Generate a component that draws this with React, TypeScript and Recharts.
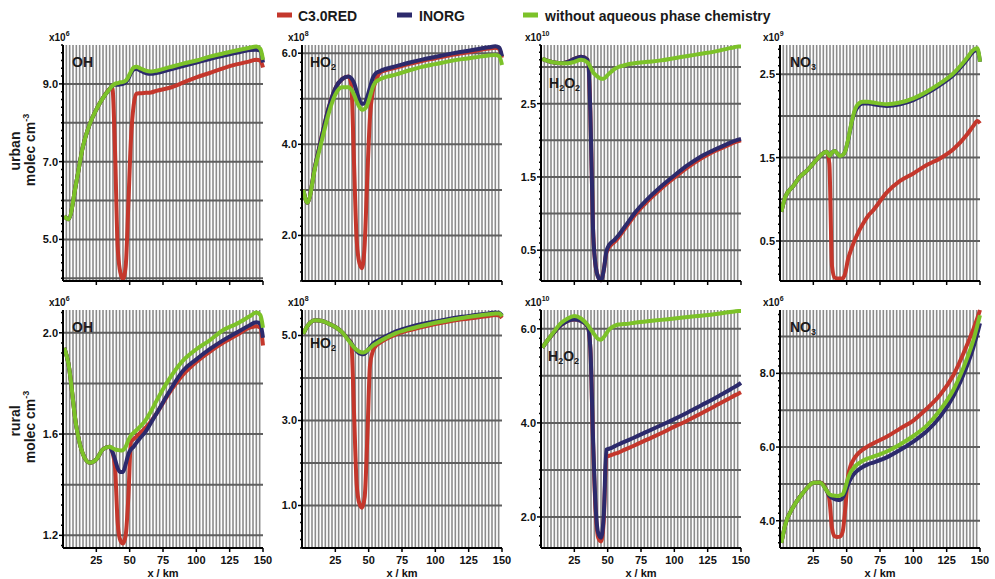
import React from 'react';
import { LineChart, Line, XAxis, YAxis, CartesianGrid } from 'recharts';

// distance along the trajectory (km)
const KM = [1, 4, 10, 15, 20, 25, 30, 35, 37, 39, 41, 43, 45, 47, 49, 51, 53, 55, 58, 62, 66, 70, 80, 90, 100, 110, 120, 130, 140, 145, 148, 150];

// urban, OH (x10^6)
const U_OH_C3 = [5.6, 5.52, 6.47, 7.4, 7.96, 8.34, 8.64, 8.87, 8.9, 7.3, 4.8, 4.15, 3.98, 4.3, 5.9, 7.6, 8.45, 8.75, 8.76, 8.77, 8.78, 8.82, 8.9, 9.03, 9.17, 9.28, 9.4, 9.5, 9.58, 9.62, 9.6, 9.42];
const U_OH_INORG = [5.6, 5.52, 6.47, 7.4, 7.96, 8.34, 8.64, 8.87, 8.95, 8.98, 8.98, 8.99, 9.0, 9.04, 9.14, 9.28, 9.37, 9.39, 9.34, 9.28, 9.26, 9.28, 9.37, 9.46, 9.55, 9.64, 9.72, 9.8, 9.87, 9.88, 9.85, 9.55];
const U_OH_NOAQ = [5.6, 5.52, 6.47, 7.4, 7.96, 8.34, 8.64, 8.87, 8.95, 9.0, 9.02, 9.04, 9.05, 9.08, 9.18, 9.32, 9.42, 9.44, 9.4, 9.34, 9.32, 9.34, 9.43, 9.52, 9.6, 9.7, 9.78, 9.86, 9.93, 9.96, 9.9, 9.62];

// urban, HO2 (x10^8)
const U_HO2_C3 = [3.0, 2.72, 3.55, 4.2, 4.8, 5.23, 5.43, 5.49, 5.3, 3.6, 1.9, 1.4, 1.28, 1.8, 3.3, 4.6, 5.15, 5.36, 5.56, 5.62, 5.65, 5.68, 5.76, 5.83, 5.89, 5.95, 6.0, 6.05, 6.1, 6.12, 6.09, 5.9];
const U_HO2_INORG = [3.0, 2.72, 3.55, 4.2, 4.8, 5.23, 5.43, 5.49, 5.45, 5.35, 5.16, 4.98, 4.89, 4.9, 5.05, 5.25, 5.45, 5.55, 5.6, 5.65, 5.68, 5.71, 5.79, 5.86, 5.92, 5.98, 6.03, 6.08, 6.13, 6.15, 6.12, 5.93];
const U_HO2_NOAQ = [3.0, 2.72, 3.51, 4.1, 4.68, 5.09, 5.25, 5.25, 5.2, 5.09, 4.94, 4.82, 4.76, 4.78, 4.87, 5.05, 5.25, 5.36, 5.42, 5.47, 5.5, 5.53, 5.62, 5.7, 5.76, 5.82, 5.87, 5.91, 5.95, 5.96, 5.93, 5.74];

// urban, H2O2 (x10^10)
const U_H2O2_C3 = [3.11, 3.09, 3.06, 3.05, 3.07, 3.11, 3.14, 3.1, 2.4, 0.8, 0.28, 0.13, 0.09, 0.22, 0.46, 0.54, 0.58, 0.61, 0.67, 0.77, 0.87, 0.97, 1.17, 1.34, 1.49, 1.63, 1.75, 1.85, 1.93, 1.97, 1.99, 2.0];
const U_H2O2_INORG = [3.11, 3.09, 3.06, 3.05, 3.07, 3.11, 3.14, 3.1, 2.4, 0.8, 0.28, 0.13, 0.09, 0.22, 0.48, 0.57, 0.61, 0.64, 0.7, 0.8, 0.9, 1.0, 1.2, 1.37, 1.52, 1.66, 1.78, 1.87, 1.95, 1.99, 2.01, 2.02];
const U_H2O2_NOAQ = [3.11, 3.09, 3.06, 3.05, 3.05, 3.07, 3.1, 3.06, 3.0, 2.93, 2.89, 2.86, 2.84, 2.84, 2.87, 2.91, 2.94, 2.97, 3.0, 3.02, 3.04, 3.05, 3.07, 3.09, 3.12, 3.15, 3.18, 3.21, 3.25, 3.27, 3.28, 3.28];

// urban, NO3 (x10^9)
const U_NO3_C3 = [0.85, 1.03, 1.16, 1.27, 1.34, 1.43, 1.52, 1.57, 1.43, 0.2, 0.06, 0.05, 0.05, 0.05, 0.12, 0.28, 0.38, 0.47, 0.58, 0.7, 0.8, 0.87, 1.08, 1.22, 1.31, 1.41, 1.49, 1.6, 1.77, 1.88, 1.94, 1.91];
const U_NO3_INORG = [0.85, 1.03, 1.16, 1.27, 1.34, 1.43, 1.52, 1.57, 1.52, 1.56, 1.58, 1.55, 1.52, 1.53, 1.58, 1.7, 1.86, 2.0, 2.1, 2.15, 2.15, 2.14, 2.12, 2.14, 2.19, 2.27, 2.37, 2.49, 2.67, 2.77, 2.79, 2.65];
const U_NO3_NOAQ = [0.85, 1.03, 1.16, 1.27, 1.34, 1.43, 1.52, 1.57, 1.52, 1.56, 1.58, 1.55, 1.52, 1.53, 1.58, 1.71, 1.87, 2.01, 2.13, 2.17, 2.17, 2.16, 2.14, 2.16, 2.21, 2.29, 2.39, 2.51, 2.69, 2.79, 2.81, 2.65];

// rural, OH (x10^6)
const R_OH_C3 = [1.94, 1.88, 1.63, 1.52, 1.487, 1.5, 1.54, 1.55, 1.53, 1.47, 1.25, 1.18, 1.168, 1.2, 1.35, 1.57, 1.58, 1.59, 1.605, 1.625, 1.65, 1.68, 1.765, 1.835, 1.885, 1.925, 1.96, 1.99, 2.02, 2.026, 2.02, 1.95];
const R_OH_INORG = [1.94, 1.88, 1.63, 1.52, 1.487, 1.5, 1.54, 1.55, 1.53, 1.5, 1.465, 1.45, 1.45, 1.48, 1.52, 1.54, 1.55, 1.565, 1.585, 1.61, 1.645, 1.68, 1.77, 1.85, 1.895, 1.935, 1.97, 2.0, 2.03, 2.042, 2.035, 1.98];
const R_OH_NOAQ = [1.94, 1.88, 1.63, 1.52, 1.487, 1.5, 1.54, 1.55, 1.545, 1.54, 1.537, 1.535, 1.537, 1.55, 1.575, 1.595, 1.605, 1.615, 1.63, 1.655, 1.69, 1.73, 1.82, 1.89, 1.935, 1.97, 2.01, 2.035, 2.065, 2.08, 2.07, 2.02];

// rural, HO2 (x10^8)
const R_HO2_C3 = [5.04, 5.22, 5.36, 5.34, 5.28, 5.2, 5.08, 4.9, 4.82, 3.2, 1.5, 1.05, 0.95, 1.2, 2.6, 4.3, 4.62, 4.74, 4.82, 4.9, 4.96, 5.02, 5.12, 5.2, 5.27, 5.33, 5.38, 5.42, 5.46, 5.48, 5.47, 5.41];
const R_HO2_INORG = [5.04, 5.22, 5.36, 5.34, 5.28, 5.2, 5.08, 4.9, 4.82, 4.72, 4.64, 4.58, 4.56, 4.57, 4.64, 4.72, 4.8, 4.85, 4.9, 4.97, 5.03, 5.09, 5.19, 5.27, 5.33, 5.39, 5.44, 5.48, 5.52, 5.54, 5.53, 5.47];
const R_HO2_NOAQ = [5.04, 5.22, 5.36, 5.34, 5.28, 5.2, 5.08, 4.88, 4.8, 4.72, 4.66, 4.62, 4.6, 4.61, 4.65, 4.7, 4.76, 4.8, 4.86, 4.93, 4.99, 5.05, 5.15, 5.23, 5.3, 5.36, 5.41, 5.46, 5.5, 5.52, 5.52, 5.45];

// rural, H2O2 (x10^10)
const R_H2O2_C3 = [5.6, 5.72, 5.93, 6.08, 6.17, 6.2, 6.17, 6.05, 5.6, 3.6, 2.1, 1.55, 1.48, 1.9, 3.28, 3.3, 3.32, 3.34, 3.37, 3.42, 3.47, 3.52, 3.65, 3.78, 3.92, 4.05, 4.2, 4.35, 4.5, 4.58, 4.62, 4.65];
const R_H2O2_INORG = [5.6, 5.72, 5.93, 6.08, 6.17, 6.2, 6.17, 6.05, 5.6, 3.7, 2.2, 1.65, 1.56, 2.0, 3.43, 3.45, 3.47, 3.5, 3.54, 3.59, 3.64, 3.69, 3.82, 3.95, 4.08, 4.22, 4.37, 4.52, 4.68, 4.76, 4.81, 4.85];
const R_H2O2_NOAQ = [5.6, 5.72, 5.95, 6.12, 6.22, 6.27, 6.22, 6.08, 6.0, 5.92, 5.84, 5.78, 5.77, 5.82, 5.9, 5.98, 6.03, 6.06, 6.09, 6.1, 6.11, 6.13, 6.16, 6.19, 6.22, 6.25, 6.28, 6.31, 6.35, 6.37, 6.38, 6.38];

// rural, NO3 (x10^6)
const R_NO3_C3 = [3.4, 3.9, 4.38, 4.65, 4.88, 5.03, 5.04, 4.82, 4.6, 3.8, 3.58, 3.56, 3.57, 3.7, 4.35, 5.2, 5.5, 5.65, 5.8, 5.93, 6.02, 6.1, 6.28, 6.5, 6.72, 7.04, 7.41, 7.95, 8.75, 9.2, 9.5, 9.72];
const R_NO3_INORG = [3.4, 3.9, 4.38, 4.65, 4.88, 5.03, 5.04, 4.82, 4.68, 4.62, 4.59, 4.57, 4.56, 4.62, 4.78, 4.98, 5.14, 5.25, 5.36, 5.46, 5.53, 5.58, 5.72, 5.92, 6.15, 6.43, 6.82, 7.38, 8.18, 8.7, 9.08, 9.36];
const R_NO3_NOAQ = [3.4, 3.9, 4.38, 4.65, 4.88, 5.03, 5.04, 4.82, 4.72, 4.69, 4.68, 4.67, 4.69, 4.72, 4.9, 5.15, 5.32, 5.42, 5.53, 5.63, 5.69, 5.74, 5.88, 6.07, 6.3, 6.58, 7.0, 7.55, 8.38, 8.9, 9.3, 9.58];

const X_TICKS = [25, 50, 75, 100, 125, 150];

const RED = '#c4372c';
const BLUE = '#2c2a6c';
const GREEN = '#7cc229';
const FONT = "'Liberation Sans', Arial, sans-serif";

const PLOT_W = 200;
const Y_AXIS_W = 40;
const TOP_MARGIN = 4;
const RIGHT_MARGIN = 14;

const steps = (from: number, to: number, step: number) => {
  const out: number[] = [];
  const n = Math.round((to - from) / step);
  for (let i = 0; i <= n; i++) out.push(+(from + i * step).toFixed(4));
  return out;
};

const V_GRID = steps(2.5, 147.5, 2.5);

interface PanelProps {
  left: number;
  top: number;
  plotH: number;
  showX: boolean;
  domain: [number, number];
  grid: number[];
  labels: number[];
  minorStep: number;
  red: number[];
  blue: number[];
  green: number[];
}

const Panel: React.FC<PanelProps> = (p) => {
  const data = KM.map((x, i) => ({ x, red: p.red[i], blue: p.blue[i], green: p.green[i] }));
  const start = Math.ceil(p.domain[0] / p.minorStep) * p.minorStep;
  const minor = steps(start, p.domain[1], p.minorStep).filter((v) => v <= p.domain[1]);
  const axisH = p.showX ? 30 : 8;

  const yTick = (props: any) => {
    const { x, y, payload } = props;
    const v = payload.value as number;
    const major = p.labels.some((l) => Math.abs(l - v) < 1e-6);
    return (
      <g>
        <line x1={x - (major ? 4 : 2)} x2={x} y1={y} y2={y} stroke="#000" strokeWidth={1.5} />
        {major && (
          <text x={x - 5} y={y} dy="0.36em" textAnchor="end" fontSize={11} fontWeight={700} fontFamily={FONT} fill="#111">
            {v.toFixed(1)}
          </text>
        )}
      </g>
    );
  };

  const xTick = (props: any) => {
    const { x, y, payload } = props;
    return (
      <g>
        <line x1={x} x2={x} y1={y} y2={y + 4} stroke="#000" strokeWidth={1.5} />
        {p.showX && (
          <text x={x} y={y + 16} textAnchor="middle" fontSize={11} fontWeight={700} fontFamily={FONT} fill="#111">
            {payload.value}
          </text>
        )}
      </g>
    );
  };

  return (
    <div style={{ position: 'absolute', left: p.left - Y_AXIS_W, top: p.top - TOP_MARGIN }}>
      <LineChart
        width={Y_AXIS_W + PLOT_W + RIGHT_MARGIN}
        height={p.plotH + TOP_MARGIN + axisH}
        data={data}
        margin={{ top: TOP_MARGIN, right: RIGHT_MARGIN, bottom: 0, left: 0 }}
      >
        <CartesianGrid horizontal={false} verticalValues={V_GRID} stroke="#8c8c8c" strokeWidth={1.6} />
        <CartesianGrid vertical={false} horizontalValues={p.grid} stroke="#5e5e5e" strokeWidth={2} />
        <XAxis
          dataKey="x"
          type="number"
          domain={[0, 150]}
          ticks={X_TICKS}
          interval={0}
          height={axisH}
          tickSize={0}
          tickMargin={0}
          tickLine={false}
          tick={xTick}
          axisLine={{ stroke: '#000', strokeWidth: 2 }}
        />
        <YAxis
          type="number"
          domain={p.domain}
          ticks={minor}
          interval={0}
          width={Y_AXIS_W}
          tickSize={0}
          tickMargin={0}
          tickLine={false}
          tick={yTick}
          axisLine={{ stroke: '#000', strokeWidth: 2 }}
        />
        <Line type="monotone" dataKey="red" stroke={RED} strokeWidth={4} dot={false} isAnimationActive={false} />
        <Line type="monotone" dataKey="blue" stroke={BLUE} strokeWidth={4} dot={false} isAnimationActive={false} />
        <Line type="monotone" dataKey="green" stroke={GREEN} strokeWidth={4} dot={false} isAnimationActive={false} />
      </LineChart>
    </div>
  );
};

const COLS = [63, 302, 541, 780];
const TOP_ROW = 45;
const BOTTOM_ROW = 310;

const Exp = ({ x, y, e }: { x: number; y: number; e: string }) => (
  <text x={x} y={y} fontSize={10} fontWeight={700} fontFamily={FONT} fill="#111">
    x10<tspan fontSize={7} dy={-5}>{e}</tspan>
  </text>
);

const App: React.FC = () => {
  const t = { fontSize: 14, fontWeight: 700, fontFamily: FONT, fill: '#1a1a1a' } as const;
  const ho2 = (
    <>
      <tspan>HO</tspan>
      <tspan fontSize={9} dy={3}>2</tspan>
    </>
  );
  const h2o2 = (
    <>
      <tspan>H</tspan>
      <tspan fontSize={9} dy={3}>2</tspan>
      <tspan dy={-3}>O</tspan>
      <tspan fontSize={9} dy={3}>2</tspan>
    </>
  );
  const no3 = (
    <>
      <tspan>NO</tspan>
      <tspan fontSize={9} dy={3}>3</tspan>
    </>
  );
  return (
    <div style={{ position: 'absolute', left: 0, top: 0, width: 995, height: 579, background: '#fff', overflow: 'hidden' }}>
      <Panel left={COLS[0]} top={TOP_ROW} plotH={236} showX={false} domain={[3.93, 10.0]} grid={[4, 5, 6, 7, 8, 9]} labels={[5, 7, 9]} minorStep={0.2} red={U_OH_C3} blue={U_OH_INORG} green={U_OH_NOAQ} />
      <Panel left={COLS[1]} top={TOP_ROW} plotH={236} showX={false} domain={[1.0, 6.18]} grid={[1, 2, 3, 4, 5, 6]} labels={[2, 4, 6]} minorStep={0.2} red={U_HO2_C3} blue={U_HO2_INORG} green={U_HO2_NOAQ} />
      <Panel left={COLS[2]} top={TOP_ROW} plotH={236} showX={false} domain={[0.08, 3.3]} grid={[0.5, 1, 1.5, 2, 2.5, 3]} labels={[0.5, 1.5, 2.5]} minorStep={0.1} red={U_H2O2_C3} blue={U_H2O2_INORG} green={U_H2O2_NOAQ} />
      <Panel left={COLS[3]} top={TOP_ROW} plotH={236} showX={false} domain={[0.02, 2.85]} grid={[0.5, 1, 1.5, 2, 2.5]} labels={[0.5, 1.5, 2.5]} minorStep={0.1} red={U_NO3_C3} blue={U_NO3_INORG} green={U_NO3_NOAQ} />
      <Panel left={COLS[0]} top={BOTTOM_ROW} plotH={238} showX domain={[1.15, 2.09]} grid={[1.2, 1.4, 1.6, 1.8, 2.0]} labels={[1.2, 1.6, 2.0]} minorStep={0.04} red={R_OH_C3} blue={R_OH_INORG} green={R_OH_NOAQ} />
      <Panel left={COLS[1]} top={BOTTOM_ROW} plotH={238} showX domain={[0, 5.6]} grid={[1, 2, 3, 4, 5]} labels={[1, 3, 5]} minorStep={0.2} red={R_HO2_C3} blue={R_HO2_INORG} green={R_HO2_NOAQ} />
      <Panel left={COLS[2]} top={BOTTOM_ROW} plotH={238} showX domain={[1.34, 6.4]} grid={[2, 3, 4, 5, 6]} labels={[2, 4, 6]} minorStep={0.2} red={R_H2O2_C3} blue={R_H2O2_INORG} green={R_H2O2_NOAQ} />
      <Panel left={COLS[3]} top={BOTTOM_ROW} plotH={238} showX domain={[3.26, 9.72]} grid={[4, 5, 6, 7, 8, 9]} labels={[4, 6, 8]} minorStep={0.2} red={R_NO3_C3} blue={R_NO3_INORG} green={R_NO3_NOAQ} />

      <svg width={995} height={579} style={{ position: 'absolute', left: 0, top: 0, pointerEvents: 'none' }}>
        {/* legend */}
        <rect x={277} y={12.5} width={15} height={5} fill={RED} />
        <text x={298} y={20.5} {...t}>C3.0RED</text>
        <rect x={397} y={12.5} width={15} height={5} fill={BLUE} />
        <text x={419} y={20.5} {...t}>INORG</text>
        <rect x={523} y={12.5} width={15} height={5} fill={GREEN} />
        <text x={545} y={20.5} {...t}>without aqueous phase chemistry</text>

        {/* exponents */}
        <Exp x={COLS[0] - 14} y={TOP_ROW - 4} e="6" />
        <Exp x={COLS[1] - 14} y={TOP_ROW - 4} e="8" />
        <Exp x={COLS[2] - 16} y={TOP_ROW - 4} e="10" />
        <Exp x={COLS[3] - 17} y={TOP_ROW - 4} e="9" />
        <Exp x={COLS[0] - 14} y={BOTTOM_ROW - 4} e="6" />
        <Exp x={COLS[1] - 14} y={BOTTOM_ROW - 4} e="8" />
        <Exp x={COLS[2] - 16} y={BOTTOM_ROW - 4} e="10" />
        <Exp x={COLS[3] - 17} y={BOTTOM_ROW - 4} e="6" />

        {/* species labels */}
        <text x={72} y={67} {...t}>OH</text>
        <text x={310} y={67} {...t}>{ho2}</text>
        <text x={549} y={88} {...t}>{h2o2}</text>
        <text x={790} y={67} {...t}>{no3}</text>
        <text x={72} y={332} {...t}>OH</text>
        <text x={310} y={348} {...t}>{ho2}</text>
        <text x={548} y={361} {...t}>{h2o2}</text>
        <text x={790} y={332} {...t}>{no3}</text>

        {/* row titles */}
        <text transform="rotate(-90 20 151)" x={20} y={151} textAnchor="middle" {...t}>urban</text>
        <text transform="rotate(-90 35 150)" x={35} y={150} textAnchor="middle" {...t}>
          molec cm<tspan fontSize={9} dy={-6}>-3</tspan>
        </text>
        <text transform="rotate(-90 20 421)" x={20} y={421} textAnchor="middle" {...t}>rural</text>
        <text transform="rotate(-90 35 427)" x={35} y={427} textAnchor="middle" {...t}>
          molec cm<tspan fontSize={9} dy={-6}>-3</tspan>
        </text>

        {/* x titles */}
        {COLS.map((c) => (
          <text key={c} x={c + PLOT_W / 2} y={577} textAnchor="middle" fontSize={11} fontWeight={700} fontFamily={FONT} fill="#111">
            x / km
          </text>
        ))}
      </svg>
    </div>
  );
};

export default App;
